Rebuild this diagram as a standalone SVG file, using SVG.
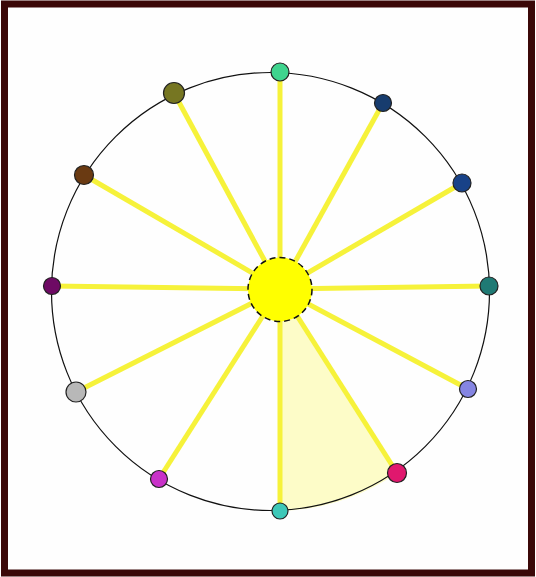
<svg xmlns="http://www.w3.org/2000/svg" width="536" height="577" viewBox="0 0 536 577">
<style>
.spoke{stroke:#f6f23a;stroke-width:5;stroke-linecap:butt}
.node{stroke:#222;stroke-width:1.2}
</style>
<rect x="0" y="0" width="536" height="577" fill="#ffffff"/>
<rect x="4.5" y="4" width="527" height="569" fill="#fefefe" stroke="#3b0808" stroke-width="7"/>
<path d="M280,289 L280,511 A219,219 0 0 0 397,473 Z" fill="#fdfcc8"/>
<circle cx="270.5" cy="291.5" r="219" fill="none" stroke="#111" stroke-width="1.2"/>
<g id="connectors">
<line class="spoke" x1="280" y1="289" x2="280" y2="72"/>
<line class="spoke" x1="280" y1="289" x2="383" y2="103"/>
<line class="spoke" x1="280" y1="289" x2="462" y2="183"/>
<line class="spoke" x1="280" y1="289" x2="489" y2="286"/>
<line class="spoke" x1="280" y1="289" x2="468" y2="389"/>
<line class="spoke" x1="280" y1="289" x2="397" y2="473"/>
<line class="spoke" x1="280" y1="289" x2="280" y2="511"/>
<line class="spoke" x1="280" y1="289" x2="159" y2="479"/>
<line class="spoke" x1="280" y1="289" x2="76" y2="392"/>
<line class="spoke" x1="280" y1="289" x2="52" y2="286"/>
<line class="spoke" x1="280" y1="289" x2="84" y2="175"/>
<line class="spoke" x1="280" y1="289" x2="174" y2="93"/>
</g>
<g id="hub"><circle cx="280" cy="289.5" r="32" fill="#ffff00" stroke="#111" stroke-width="1.5" stroke-dasharray="6,4"/></g>
<g id="n12"><circle class="node" cx="280" cy="72" r="9" fill="#3fd48e"/></g>
<g id="n1"><circle class="node" cx="383" cy="103" r="8.5" fill="#173c6e"/></g>
<g id="n2"><circle class="node" cx="462" cy="183" r="9" fill="#184288"/></g>
<g id="n3"><circle class="node" cx="489" cy="286" r="9" fill="#1f7a74"/></g>
<g id="n4"><circle class="node" cx="468" cy="389" r="8.5" fill="#8585e2"/></g>
<g id="n5"><circle class="node" cx="397" cy="473" r="9.5" fill="#e0186e"/></g>
<g id="n6"><circle class="node" cx="280" cy="511" r="8" fill="#3ec8b8"/></g>
<g id="n7"><circle class="node" cx="159" cy="479" r="8.5" fill="#c832c8"/></g>
<g id="n8"><circle class="node" cx="76" cy="392" r="10" fill="#b8b8b8"/></g>
<g id="n9"><circle class="node" cx="52" cy="286" r="8.5" fill="#6e0a64"/></g>
<g id="n10"><circle class="node" cx="84" cy="175" r="9.5" fill="#6a3a12"/></g>
<g id="n11"><circle class="node" cx="174" cy="93" r="10.5" fill="#767622"/></g>
</svg>
